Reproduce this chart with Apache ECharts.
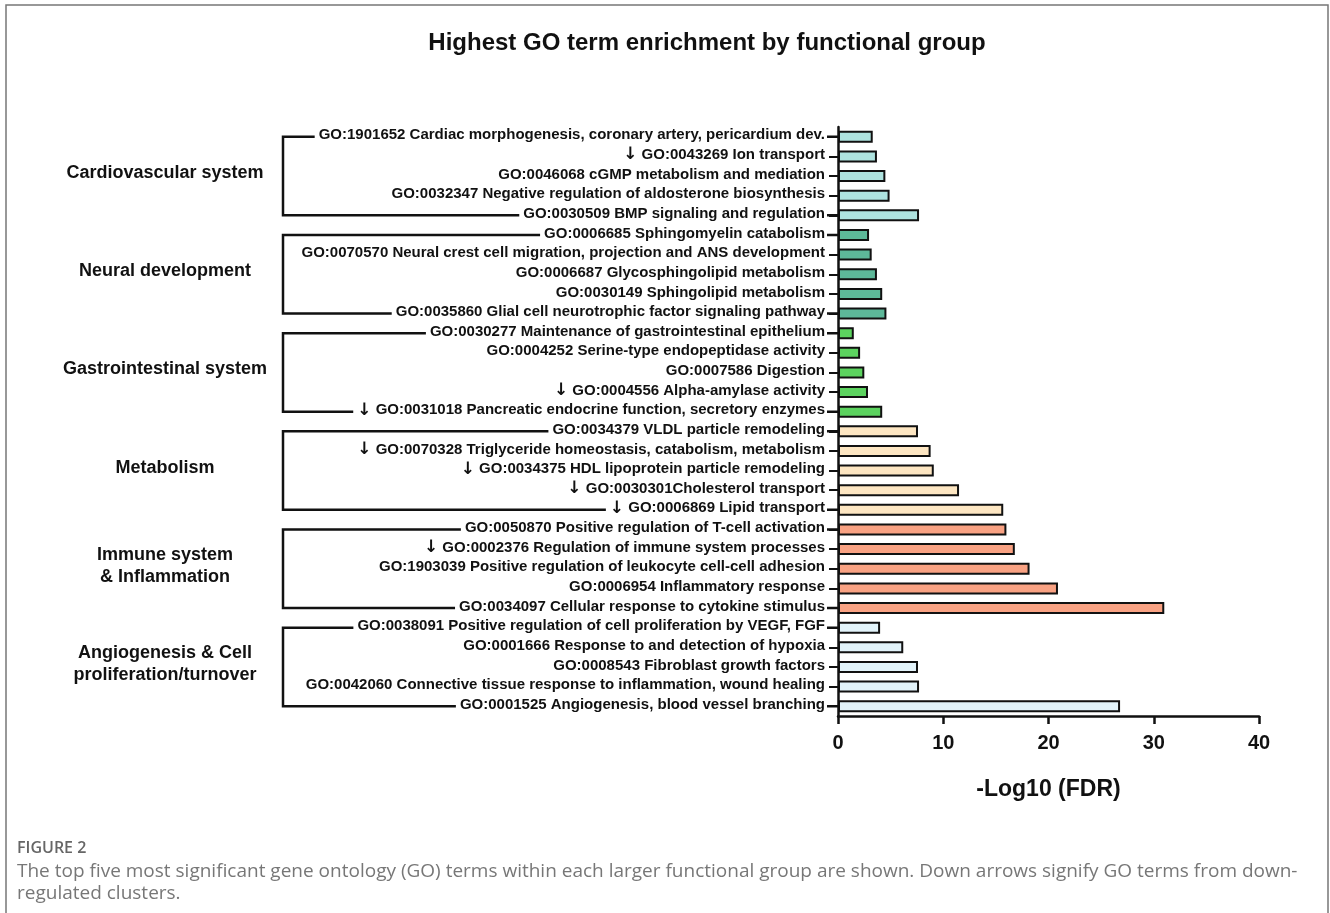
<!DOCTYPE html>
<html>
<head>
<meta charset="utf-8">
<script src="https://cdn.jsdelivr.net/npm/echarts@6/dist/echarts.min.js"></script>
<style>
  html, body { margin: 0; padding: 0; background: #fff; }
  #chart { width: 1330px; height: 913px; }
</style>
</head>
<body>
<div id="chart"></div>
<script>
// GO terms, top to bottom
const terms = [
  'GO:1901652 Cardiac morphogenesis, coronary artery, pericardium dev.',
  '↓ GO:0043269 Ion transport',
  'GO:0046068 cGMP metabolism and mediation',
  'GO:0032347 Negative regulation of aldosterone biosynthesis',
  'GO:0030509 BMP signaling and regulation',
  'GO:0006685 Sphingomyelin catabolism',
  'GO:0070570 Neural crest cell migration, projection and ANS development',
  'GO:0006687 Glycosphingolipid metabolism',
  'GO:0030149 Sphingolipid metabolism',
  'GO:0035860 Glial cell neurotrophic factor signaling pathway',
  'GO:0030277 Maintenance of gastrointestinal epithelium',
  'GO:0004252 Serine-type endopeptidase activity',
  'GO:0007586 Digestion',
  '↓ GO:0004556 Alpha-amylase activity',
  '↓ GO:0031018 Pancreatic endocrine function, secretory enzymes',
  'GO:0034379 VLDL particle remodeling',
  '↓ GO:0070328 Triglyceride homeostasis, catabolism, metabolism',
  '↓ GO:0034375 HDL lipoprotein particle remodeling',
  '↓ GO:0030301Cholesterol transport',
  '↓ GO:0006869 Lipid transport',
  'GO:0050870 Positive regulation of T-cell activation',
  '↓ GO:0002376 Regulation of immune system processes',
  'GO:1903039 Positive regulation of leukocyte cell-cell adhesion',
  'GO:0006954 Inflammatory response',
  'GO:0034097 Cellular response to cytokine stimulus',
  'GO:0038091 Positive regulation of cell proliferation by VEGF, FGF',
  'GO:0001666 Response to and detection of hypoxia',
  'GO:0008543 Fibroblast growth factors',
  'GO:0042060 Connective tissue response to inflammation, wound healing',
  'GO:0001525 Angiogenesis, blood vessel branching'
]

const fdr = [
  3.3, 3.7, 4.5, 4.9, 7.7,
  2.95, 3.2, 3.7, 4.2, 4.6,
  1.5, 2.1, 2.5, 2.85, 4.2,
  7.6, 8.8, 9.1, 11.5, 15.7,
  16.0, 16.8, 18.2, 20.9, 31.0,
  4.0, 6.2, 7.6, 7.7, 26.8
]

const groupNames = [
  'Cardiovascular system',
  'Neural development',
  'Gastrointestinal system',
  'Metabolism',
  'Immune system\n& Inflammation',
  'Angiogenesis & Cell\nproliferation/turnover'
]
const groupSizes = [5, 5, 5, 5, 5, 5]
const groupColors = ['#aee3df', '#5db899', '#5cd35f', '#fde6c2', '#f9a283', '#e2f3fa']

const xTicks = [0, 10, 20, 30, 40]

const captionHead = 'FIGURE 2'
const captionLines = [
  'The top five most significant gene ontology (GO) terms within each larger functional group are shown. Down arrows signify GO terms from down-',
  'regulated clusters.'
]

const FONT = "'Liberation Sans', Arial, sans-serif"

// colour of each bar from its group
const barColors = []
groupSizes.forEach((n, g) => { for (let i = 0; i < n; i++) barColors.push(groupColors[g]) })

const chart = echarts.init(document.getElementById('chart'))

chart.setOption({
  animation: false,
  grid: { left: 838, right: 71, top: 127, bottom: 197 },
  xAxis: {
    type: 'value',
    min: xTicks[0], max: xTicks[xTicks.length - 1], interval: 10,
    name: '-Log10 (FDR)',
    nameLocation: 'middle', nameGap: 62,
    nameTextStyle: { fontFamily: FONT, fontWeight: 'bold', fontSize: 23, color: '#111' },
    axisLine: { show: true, lineStyle: { color: '#111', width: 2.5 } },
    axisTick: { show: true, length: 8, lineStyle: { color: '#111', width: 2.5 } },
    axisLabel: { fontFamily: FONT, fontWeight: 'bold', fontSize: 20, color: '#111', margin: 17 },
    splitLine: { show: false }
  },
  yAxis: {
    type: 'category',
    inverse: true,
    data: terms,
    z: 5,
    axisLine: { show: true, lineStyle: { color: '#111', width: 2.5 } },
    axisTick: { show: true, alignWithLabel: true, length: 9, lineStyle: { color: '#111', width: 2 } },
    axisLabel: {
      fontFamily: FONT, fontWeight: 'bold', fontSize: 15, color: '#111',
      margin: 11, backgroundColor: '#fff', padding: [0, 2, 3, 4], lineHeight: 16,
      formatter: v => v.startsWith('↓ ') ? '{ar|↓} ' + v.slice(2) : v,
      rich: {
        ar: { fontFamily: "'DejaVu Sans', sans-serif", fontWeight: 'bold', fontSize: 17, color: '#111', lineHeight: 16 }
      }
    },
    splitLine: { show: false }
  },
  series: [{
    type: 'bar',
    barWidth: 12,
    data: fdr.map((v, i) => ({ value: v, itemStyle: { color: barColors[i] } })),
    itemStyle: { borderColor: '#111', borderWidth: 2 }
  }]
})

// brackets, group names, title and caption placed from the axis scales
const x0 = chart.convertToPixel({ xAxisIndex: 0 }, 0)
const bx = 283
const graphics = []
let start = 0
groupSizes.forEach((n, g) => {
  const yTop = chart.convertToPixel({ yAxisIndex: 0 }, terms[start])
  const yBot = chart.convertToPixel({ yAxisIndex: 0 }, terms[start + n - 1])
  graphics.push(
    {
      type: 'polyline', z: 1,
      shape: { points: [[x0, yTop], [bx, yTop], [bx, yBot], [x0, yBot]] },
      style: { fill: null, stroke: '#111', lineWidth: 2.5 }
    },
    {
      type: 'text', z: 1, x: 165, y: (yTop + yBot) / 2 - 3,
      style: {
        text: groupNames[g], fontFamily: FONT, fontWeight: 'bold', fontSize: 18, fill: '#111',
        align: 'center', verticalAlign: 'middle', lineHeight: 22
      }
    }
  )
  start += n
})

graphics.push(
  {
    type: 'text', x: 707, y: 43,
    style: { text: 'Highest GO term enrichment by functional group', fontFamily: FONT, fontWeight: 'bold', fontSize: 24, fill: '#111', align: 'center', verticalAlign: 'middle' }
  },
  {
    type: 'rect', z: 0, shape: { x: 6, y: 5, width: 1322, height: 940 },
    style: { fill: null, stroke: '#777', lineWidth: 1.5 }
  },
  {
    type: 'text', x: 17, y: 848,
    style: { text: captionHead, fontFamily: "'Open Sans', sans-serif", fontWeight: 600, fontSize: 16, fill: '#666', verticalAlign: 'middle' }
  },
  {
    type: 'text', x: 17, y: 872,
    style: { text: captionLines[0], fontFamily: "'Open Sans', sans-serif", fontSize: 19, fill: '#777', verticalAlign: 'middle' }
  },
  {
    type: 'text', x: 17, y: 894,
    style: { text: captionLines[1], fontFamily: "'Open Sans', sans-serif", fontSize: 19, fill: '#777', verticalAlign: 'middle' }
  }
)

chart.setOption({ graphic: graphics })
</script>
</body>
</html>
